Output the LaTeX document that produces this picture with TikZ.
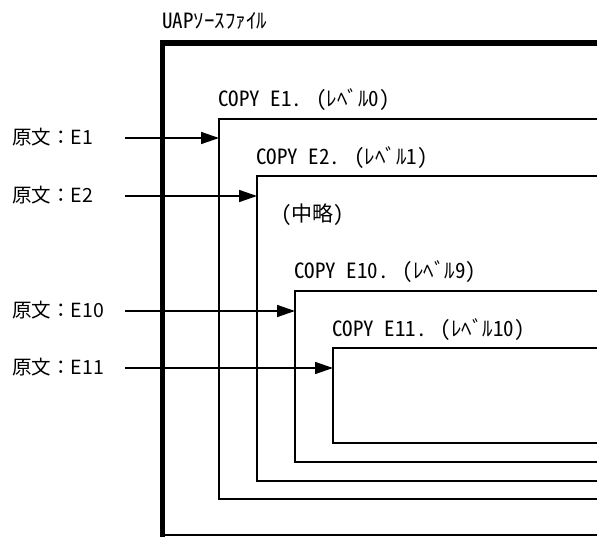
\documentclass[tikz,border=0pt]{standalone}
\usepackage{fontspec}
\setmainfont{Noto Sans CJK JP}
\newfontfamily\halfwd{Noto Sans CJK JP}[RawFeature=+hwid]
\usetikzlibrary{arrows.meta}

\begin{document}
\begin{tikzpicture}[x=1pt, y=-1pt,
    txt/.style={anchor=west, inner sep=0pt, font=\halfwd\fontsize{21}{22}\selectfont},
    src/.style={anchor=west, inner sep=0pt, font=\fontsize{19.5}{21}\selectfont},
    frame/.style={line width=1.5pt, line join=miter},
    arr/.style={line width=1.5pt, -{Triangle[length=18pt, width=12pt]}}]
        \useasboundingbox (0,0) rectangle (597,537);

        % Define corners of the nested frames (right side runs off the page)
        \coordinate (F0) at (162.5, 43);   % UAP source file
        \coordinate (F1) at (219, 119);    % level 0
        \coordinate (F2) at (257, 176);    % level 1
        \coordinate (F3) at (295, 291);    % level 9
        \coordinate (F4) at (333, 348);    % level 10

        % Outer frame
        \draw[line width=5.5pt] (597, 43) -- (F0) -- (162.5, 537);
        \draw[frame] (165, 535) -- (597, 535);

        % Nested frames
        \draw[frame] (597, 119) -- (F1) -- (219, 499) -- (597, 499);
        \draw[frame] (597, 176) -- (F2) -- (257, 481) -- (597, 481);
        \draw[frame] (597, 291) -- (F3) -- (295, 462) -- (597, 462);
        \draw[frame] (597, 348) -- (F4) -- (333, 443) -- (597, 443);

        % Frame captions
        \node[txt] (uap) at (162, 21) {UAPｿｰｽﾌｧｲﾙ};
        \node[txt] (cap1) at (218, 100) {COPY E1. （ﾚﾍﾞﾙ0）};
        \node[txt] (cap2) at (256, 158) {COPY E2. （ﾚﾍﾞﾙ1）};
        \node[txt] (skip) at (281, 215) {（中略）};
        \node[txt] (cap3) at (294, 272) {COPY E10. （ﾚﾍﾞﾙ9）};
        \node[txt] (cap4) at (332, 330) {COPY E11. （ﾚﾍﾞﾙ10）};

        % Source labels on the left
        \node[src] (src1) at (12, 137) {原文：E1};
        \node[src] (src2) at (12, 195) {原文：E2};
        \node[src] (src3) at (12, 310) {原文：E10};
        \node[src] (src4) at (12, 367) {原文：E11};

        % Arrow start points
        \coordinate (s1) at (125, 138);
        \coordinate (s2) at (125, 196);
        \coordinate (s3) at (125, 311);
        \coordinate (s4) at (125, 368);

        % Arrows into the frames
        \draw[arr] (s1) -- (s1 -| F1);
        \draw[arr] (s2) -- (s2 -| F2);
        \draw[arr] (s3) -- (s3 -| F3);
        \draw[arr] (s4) -- (s4 -| F4);

    \end{tikzpicture}
\end{document}
